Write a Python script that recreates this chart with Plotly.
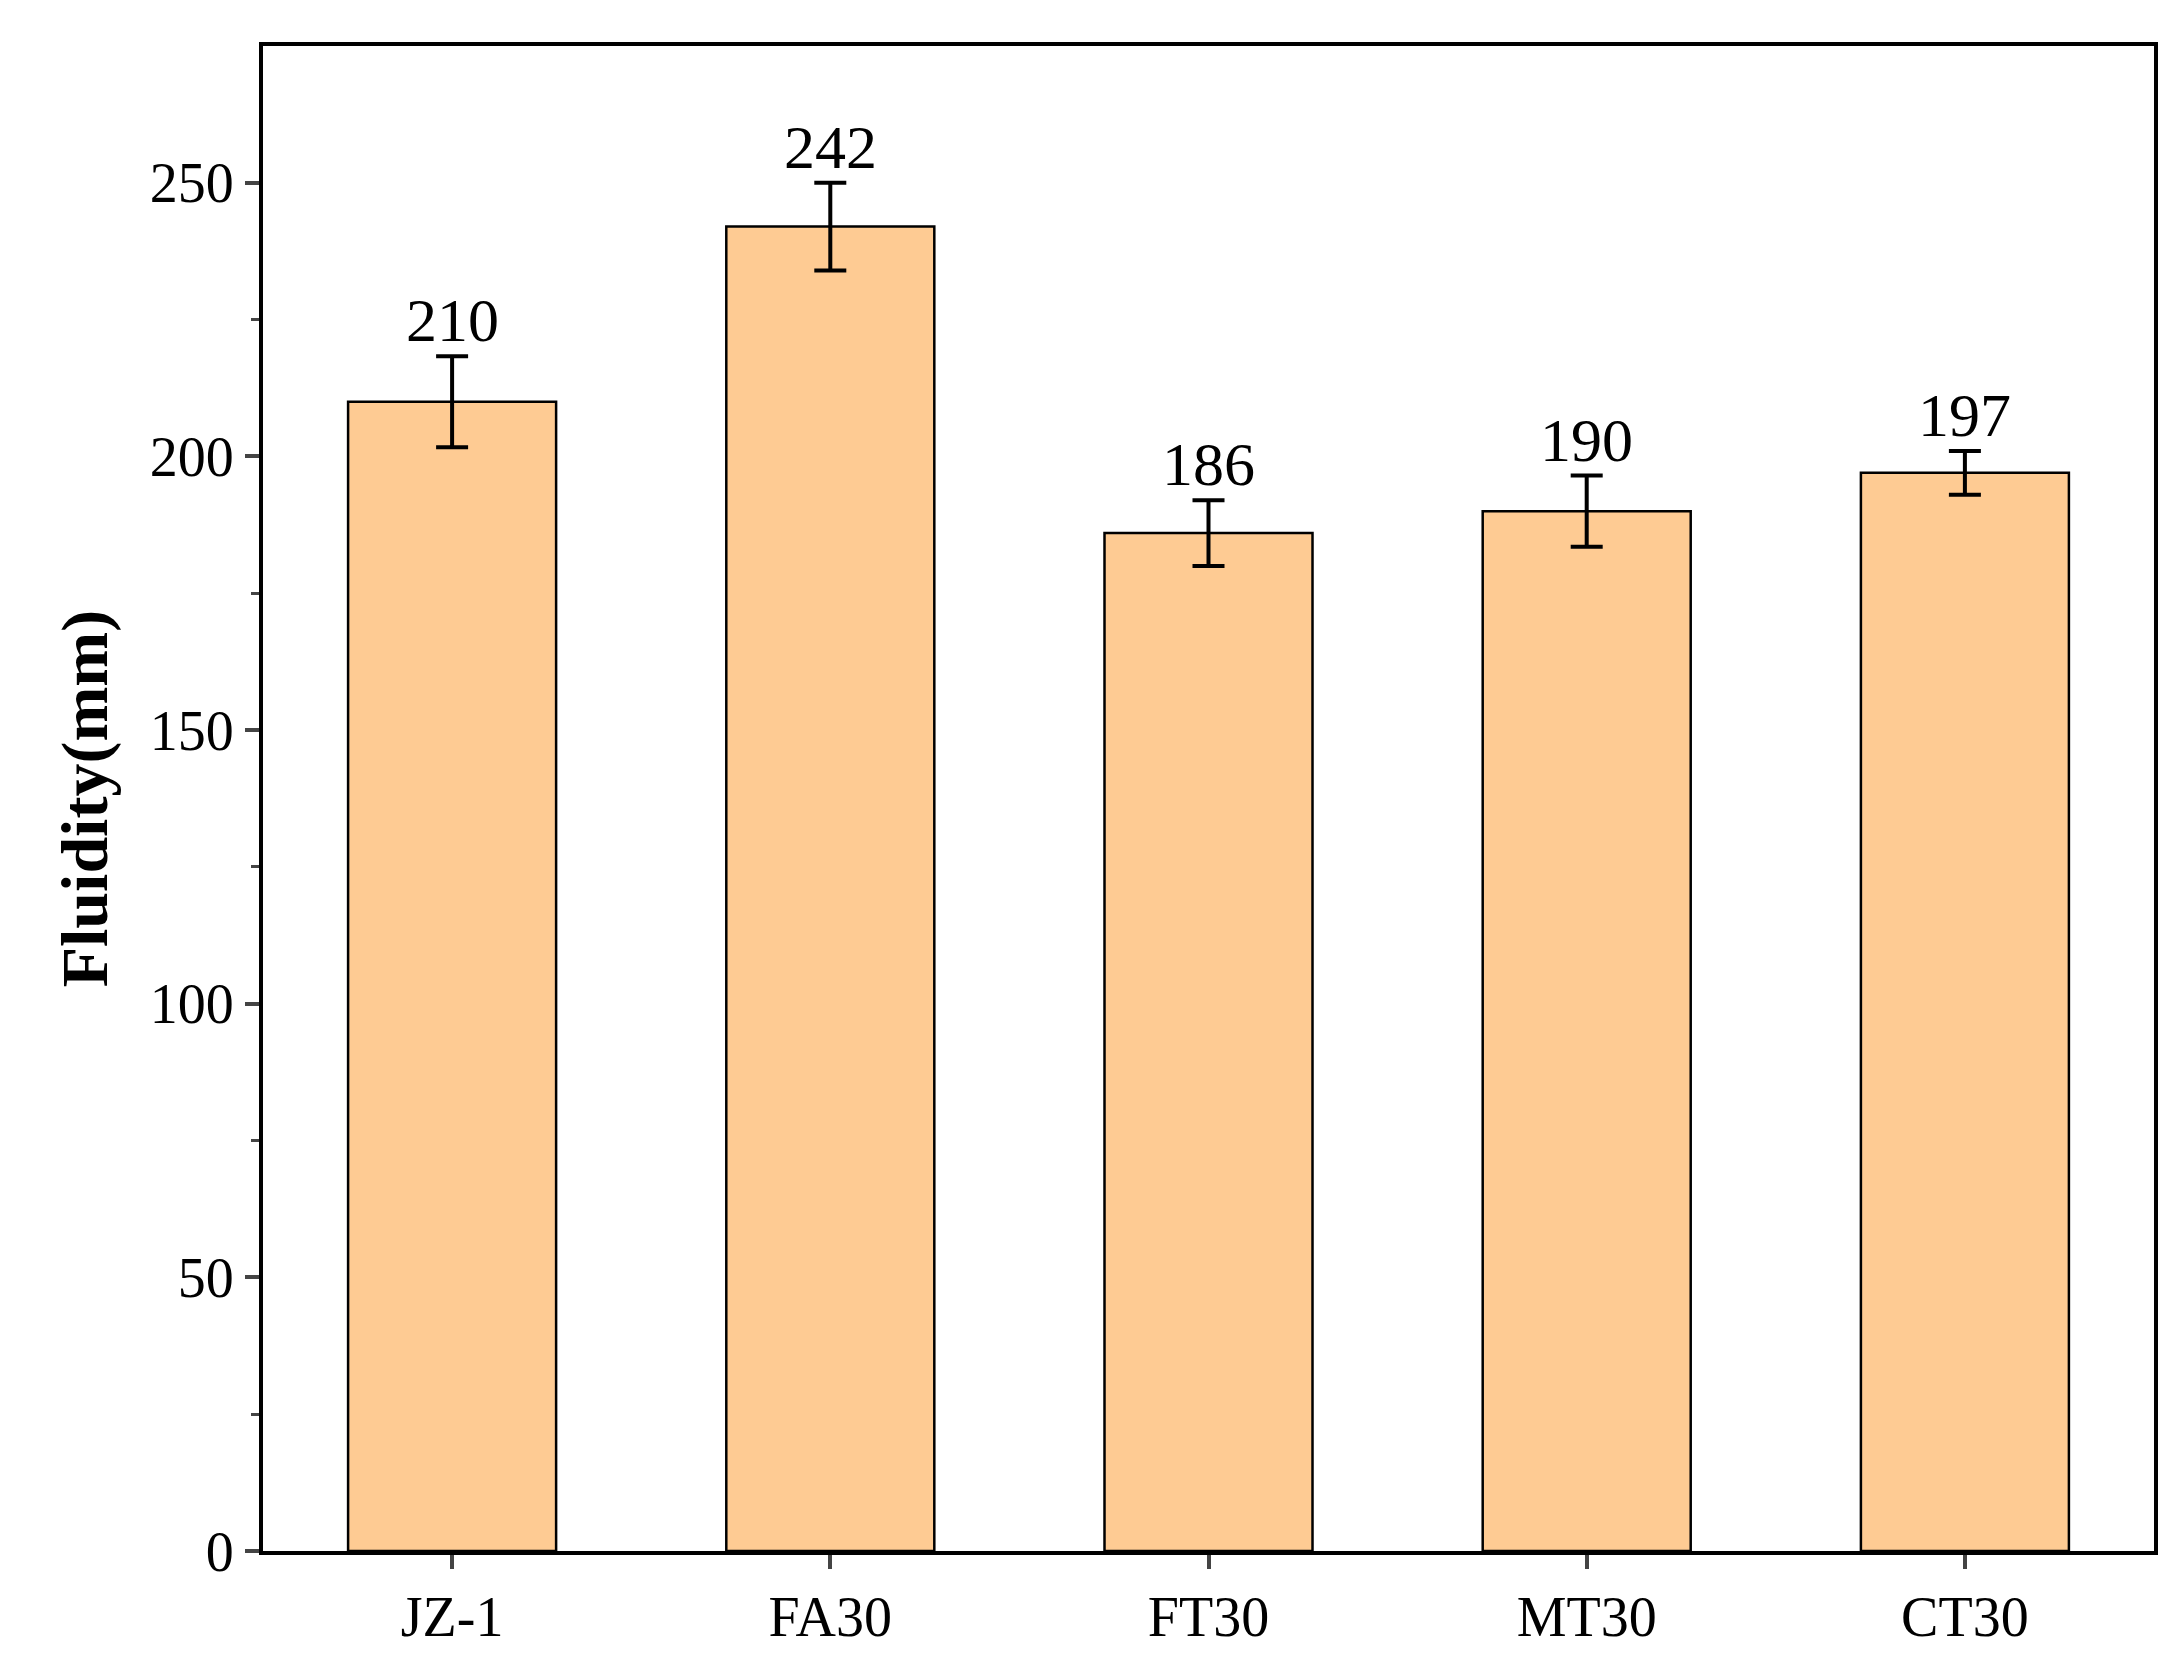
import plotly.graph_objects as go

samples = ["JZ-1", "FA30", "FT30", "MT30", "CT30"]
fluidity = [210, 242, 186, 190, 197]
errors = [8.3, 8.0, 6.0, 6.5, 4.0]

font_family = "Liberation Serif, Times New Roman, serif"

fig = go.Figure()

fig.add_trace(go.Bar(
	x = samples,
	y = fluidity,
	width = 0.55,
	marker = dict(color = "#FECB93", line = dict(color = "black", width = 2.5)),
	error_y = dict(type = "data", array = errors, color = "black", thickness = 4, width = 16),
	showlegend = False
))

# value labels sit above the error bars
for s, v, e in zip(samples, fluidity, errors):
	fig.add_annotation(
		x = s, y = v + e, text = str(v), showarrow = False,
		yanchor = "bottom", yshift = 0,
		font = dict(family = font_family, size = 62, color = "black")
	)

fig.update_layout(
	width = 2176,
	height = 1653,
	plot_bgcolor = "white",
	paper_bgcolor = "white",
	font = dict(family = font_family, color = "black", size = 56),
	margin = dict(l = 255, r = 30, t = 38, b = 110),
	xaxis = dict(
		showline = True, linecolor = "black", linewidth = 4, mirror = True,
		ticks = "outside", ticklen = 14, tickwidth = 4,
		tickfont = dict(size = 56)
	),
	yaxis = dict(
		title = dict(text = "<b>Fluidity(mm)</b>", font = dict(size = 66), standoff = 22),
		range = [0, 275], tickvals = [0, 50, 100, 150, 200, 250],
		showline = True, linecolor = "black", linewidth = 4, mirror = True,
		ticks = "outside", ticklen = 14, tickwidth = 4,
		minor = dict(tickvals = [25, 75, 125, 175, 225], ticks = "outside", ticklen = 8, tickwidth = 3),
		showgrid = False, zeroline = False,
		tickfont = dict(size = 56)
	)
)

fig.write_html("out.html")
